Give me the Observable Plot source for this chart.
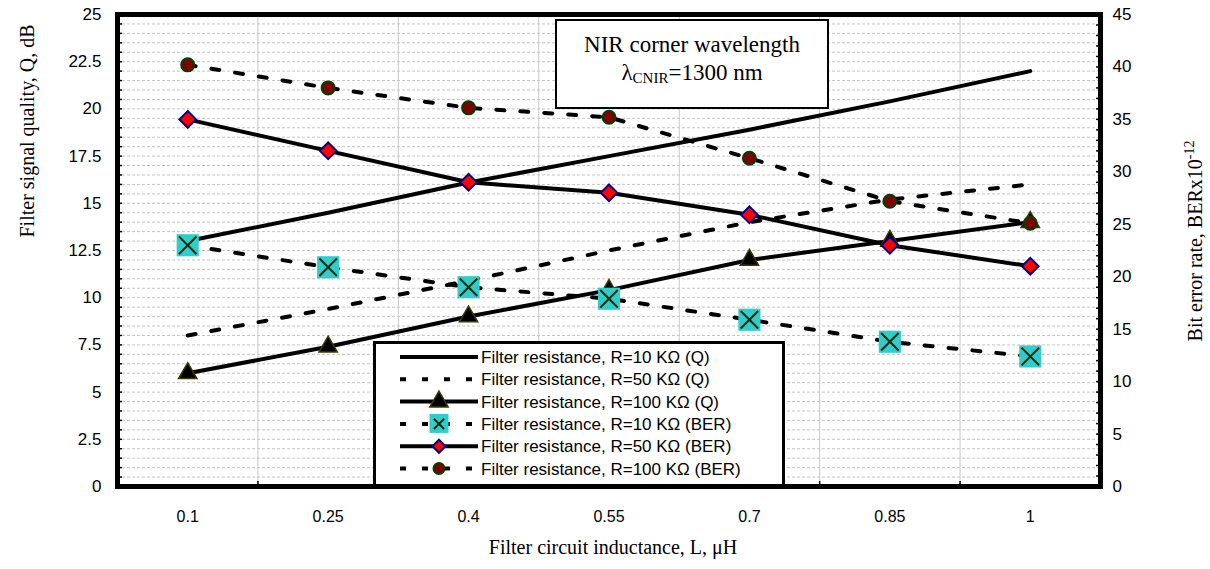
<!DOCTYPE html>
<html>
<head>
<meta charset="utf-8">
<script src="https://cdn.jsdelivr.net/npm/d3@7"></script>
<script src="https://cdn.jsdelivr.net/npm/@observablehq/plot@0.6"></script>
<style>
  body { margin: 0; background: #fff; }
  #wrap { position: relative; width: 1210px; height: 569px; overflow: hidden; }
  #titlebox { position: absolute; left: 555px; top: 19px; width: 270px; height: 76px;
    border: 2px solid #000; background: #fff; font-family: "Liberation Serif", "Times New Roman", serif;
    font-size: 23px; text-align: center; line-height: 28px; padding-top: 10px; box-sizing: content-box; }
  #titlebox sub { font-size: 15px; vertical-align: -3px; line-height: 0; }
  #rtitle { position: absolute; left: 1195px; top: 241px; transform: translate(-50%, -50%) rotate(-90deg);
    white-space: nowrap; font-family: "Liberation Serif", "Times New Roman", serif; font-size: 20px; }
  #rtitle sup { font-size: 14px; vertical-align: 8px; line-height: 0; }
  #legend { position: absolute; left: 373px; top: 341px; }
</style>
</head>
<body>
<div id="wrap">
  <div id="plot"></div>
  <div id="titlebox">NIR corner wavelength<br>λ<sub>CNIR</sub>=1300 nm</div>
  <div id="rtitle">Bit error rate, BERx10<sup>-12</sup></div>
  <div id="legend"></div>
</div>
<script>
// ---- data ----
const categories = ["0.1", "0.25", "0.4", "0.55", "0.7", "0.85", "1"];
const qR10   = [13.0, 14.5, 16.1, 17.5, 18.9, 20.4, 22.0];
const qR50   = [8.0, 9.4, 10.9, 12.5, 14.0, 15.2, 16.0];
const qR100  = [6.0, 7.4, 9.0, 10.4, 12.0, 13.0, 14.0];
const berR10  = [23.0, 20.9, 19.0, 17.9, 15.9, 13.8, 12.4];
const berR50  = [35.0, 32.0, 29.0, 28.0, 25.9, 23.0, 21.0];
const berR100 = [40.2, 38.0, 36.1, 35.2, 31.3, 27.2, 25.1];
const qTicks = [0, 2.5, 5, 7.5, 10, 12.5, 15, 17.5, 20, 22.5, 25];
const qTickLabels = ["0", "2.5", "5", "7.5", "10", "12.5", "15", "17.5", "20", "22.5", "25"];
const berTicks = [0, 5, 10, 15, 20, 25, 30, 35, 40, 45];
const seriesNames = [
  "Filter resistance, R=10 KΩ (Q)",
  "Filter resistance, R=50 KΩ (Q)",
  "Filter resistance, R=100 KΩ (Q)",
  "Filter resistance, R=10 KΩ (BER)",
  "Filter resistance, R=50 KΩ (BER)",
  "Filter resistance, R=100 KΩ (BER)"
];

// BER (right axis 0..45) mapped onto Q scale (0..25)
const QMAX = 25, BMAX = 45;
const b2q = b => b * QMAX / BMAX;
const rows = (arr, conv = v => v) => arr.map((v, i) => ({i, v: conv(v)}));

const dQ10 = rows(qR10), dQ50 = rows(qR50), dQ100 = rows(qR100);
const dB10 = rows(berR10, b2q), dB50 = rows(berR50, b2q), dB100 = rows(berR100, b2q);

const DASH = "8,16";
const tickFont = "'Liberation Sans', Arial, sans-serif";
const serif = "'Liberation Serif', 'Times New Roman', serif";

const idx = d3.range(categories.length);
const bounds = d3.range(categories.length - 1).map(i => i + 0.5);

const chart = Plot.plot({
  width: 1210,
  height: 569,
  marginLeft: 117,
  marginRight: 110,
  marginTop: 14,
  marginBottom: 83,
  x: {type: "linear", domain: [-0.5, categories.length - 0.5]},
  y: {domain: [0, QMAX]},
  style: {background: "white"},
  marks: [
    Plot.gridY(d3.range(0, QMAX + 0.01, 0.5), {stroke: "#c4c4c4", strokeOpacity: 1, strokeDasharray: "3,2"}),
    Plot.ruleX(bounds, {stroke: "#c8c8c8", strokeOpacity: 1}),
    // minor inner ticks
    Plot.axisY({ticks: d3.range(0, QMAX + 0.01, 0.5), tickSize: -5, tickFormat: () => "", strokeWidth: 1.5, label: null}),
    Plot.axisY({anchor: "right", ticks: d3.range(0, BMAX + 0.01, 1).map(b2q), tickSize: -5, tickFormat: () => "", strokeWidth: 1.5, label: null}),
    Plot.axisX({ticks: bounds, tickSize: -5, tickFormat: () => "", strokeWidth: 1.5, label: null}),
    // lines
    Plot.line(dQ10, {x: "i", y: "v", stroke: "black", strokeWidth: 4}),
    Plot.line(dQ50, {x: "i", y: "v", stroke: "black", strokeWidth: 4, strokeDasharray: DASH}),
    Plot.line(dQ100, {x: "i", y: "v", stroke: "black", strokeWidth: 4}),
    Plot.line(dB10, {x: "i", y: "v", stroke: "black", strokeWidth: 4, strokeDasharray: DASH}),
    Plot.line(dB50, {x: "i", y: "v", stroke: "black", strokeWidth: 4}),
    Plot.line(dB100, {x: "i", y: "v", stroke: "black", strokeWidth: 4, strokeDasharray: DASH}),
    // markers
    Plot.dot(dQ100, {x: "i", y: "v", symbol: "triangle", r: 6.8, fill: "black", stroke: "#3a3a00", strokeWidth: 1.5}),
    Plot.dot(dB10, {x: "i", y: "v", symbol: "square", r: 12.5, fill: "#33CCCC", stroke: "none"}),
    Plot.dot(dB10, {x: "i", y: "v", symbol: "times", r: 8, stroke: "#0a2a0a", strokeWidth: 2, fill: "none"}),
    Plot.dot(dB50, {x: "i", y: "v", symbol: "diamond2", r: 7.5, fill: "#FF0000", stroke: "#000080", strokeWidth: 2}),
    Plot.dot(dB100, {x: "i", y: "v", symbol: "circle", r: 6.5, fill: "#800000", stroke: "#004000", strokeWidth: 2}),
    // frame
    Plot.frame({stroke: "black", strokeWidth: 5}),
    // axes
    Plot.axisY({ticks: qTicks, tickSize: 0, tickPadding: 16, tickFormat: d => qTickLabels[qTicks.indexOf(d)],
      fontSize: 17, fontFamily: tickFont, label: null, letterSpacing: 0.8}),
    Plot.axisY({anchor: "right", ticks: berTicks.map(b2q), tickSize: 0, tickPadding: 12,
      tickFormat: d => String(Math.round(d * BMAX / QMAX)), fontSize: 17, fontFamily: tickFont, label: null}),
    Plot.axisX({ticks: idx, tickSize: 0, tickPadding: 24, tickFormat: i => categories[i],
      fontSize: 16, fontFamily: tickFont, label: null, letterSpacing: -0.6}),
    // titles
    Plot.text(["Filter circuit inductance, L, μH"], {frameAnchor: "bottom", dy: 67, dx: 4,
      fontSize: 20, fontFamily: serif, fill: "black"}),
    Plot.text(["Filter signal quality, Q, dB"], {frameAnchor: "left", rotate: -90, dx: -90, dy: -13,
      fontSize: 20, fontFamily: serif, fill: "black"})
  ]
});
document.getElementById("plot").appendChild(chart);

// ---- legend (built with d3) ----
const legendStyles = [
  {dash: null, marker: null},
  {dash: "6,16", marker: null},
  {dash: null, marker: "triangle"},
  {dash: "6,16", marker: "xsquare"},
  {dash: null, marker: "diamond"},
  {dash: "6,16", marker: "circle"}
];
const LW = 412, LH = 146;
const lsvg = d3.select("#legend").append("svg").attr("width", LW).attr("height", LH);
lsvg.append("rect").attr("x", 1.5).attr("y", 1.5).attr("width", LW - 3).attr("height", LH - 3)
  .attr("fill", "white").attr("stroke", "black").attr("stroke-width", 3);
seriesNames.forEach((name, k) => {
  const s = legendStyles[k];
  const cy = 16 + k * 22.3;
  const g = lsvg.append("g");
  g.append("line").attr("x1", 27).attr("x2", 105).attr("y1", cy).attr("y2", cy)
    .attr("stroke", "black").attr("stroke-width", 4).attr("stroke-dasharray", s.dash);
  const cx = 66;
  if (s.marker === "triangle") {
    g.append("path").attr("d", d3.symbol(d3.symbolTriangle, Math.PI * 6.8 * 6.8)())
      .attr("transform", `translate(${cx},${cy})`).attr("fill", "black").attr("stroke", "#3a3a00").attr("stroke-width", 1.5);
  } else if (s.marker === "xsquare") {
    g.append("rect").attr("x", cx - 9.5).attr("y", cy - 10).attr("width", 19).attr("height", 19).attr("fill", "#33CCCC");
    g.append("path").attr("d", d3.symbol(d3.symbolTimes, 70)()).attr("transform", `translate(${cx},${cy})`)
      .attr("stroke", "#0a2a0a").attr("stroke-width", 2).attr("fill", "none");
  } else if (s.marker === "diamond") {
    g.append("path").attr("d", d3.symbol(d3.symbolDiamond2, 110)()).attr("transform", `translate(${cx},${cy})`)
      .attr("fill", "#FF0000").attr("stroke", "#000080").attr("stroke-width", 2);
  } else if (s.marker === "circle") {
    g.append("circle").attr("cx", cx).attr("cy", cy).attr("r", 5.5)
      .attr("fill", "#800000").attr("stroke", "#004000").attr("stroke-width", 2);
  }
  g.append("text").attr("x", 108).attr("y", cy).attr("dy", "0.36em")
    .attr("font-family", tickFont).attr("font-size", 17).text(name);
});
</script>
</body>
</html>
